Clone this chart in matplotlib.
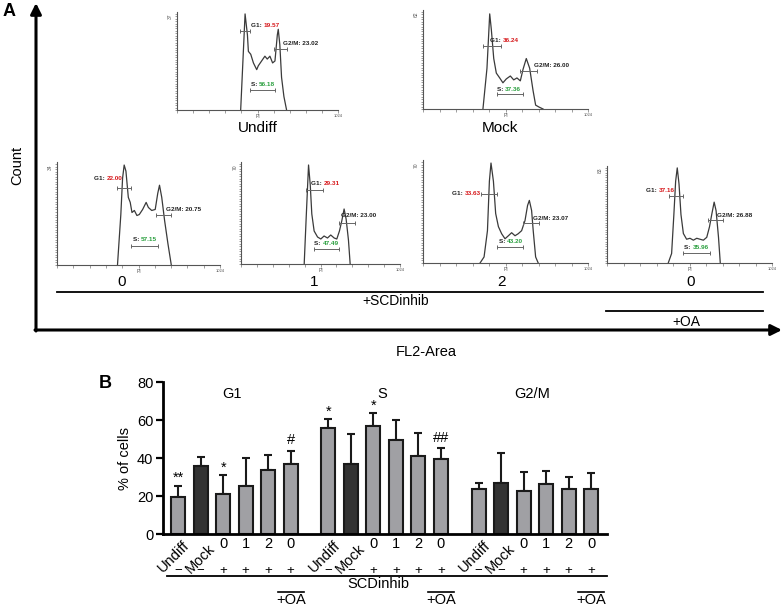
import matplotlib
matplotlib.use('Agg')
import matplotlib.pyplot as plt

plt.rcParams['font.family'] = ['Liberation Sans', 'DejaVu Sans']

# ---------------- DATA ----------------
# Panel A: flow-cytometry histograms (channel 0-1024, height as fraction of y-max)
hist_names = ['Undiff', 'Mock', '0', '1', '2', '0']
hist_ymax = ['37', '62', '34', '70', '70', '83']

undiff_ch = [405, 433, 448, 454, 469, 486, 507, 517, 538, 559, 574, 591, 608, 623, 638, 644, 654, 665, 680, 697]
undiff_y = [0, 1.0, 0.78, 0.61, 0.58, 0.49, 0.42, 0.46, 0.51, 0.56, 0.53, 0.56, 0.49, 0.51, 0.78, 0.84, 0.68, 0.34, 0.14, 0]
mock_ch = [372, 397, 414, 424, 439, 455, 476, 496, 517, 542, 563, 583, 604, 621, 641, 662, 683, 699, 720, 745]
mock_y = [0, 0.42, 0.98, 0.82, 0.52, 0.37, 0.32, 0.27, 0.31, 0.34, 0.30, 0.32, 0.29, 0.41, 0.52, 0.42, 0.19, 0.04, 0.02, 0]
d0_ch = [380, 401, 412, 422, 433, 448, 460, 471, 486, 502, 517, 538, 560, 574, 595, 617, 633, 644, 658, 676, 697, 718]
d0_y = [0, 0.5, 0.86, 0.99, 0.93, 0.67, 0.62, 0.52, 0.54, 0.49, 0.50, 0.55, 0.62, 0.57, 0.54, 0.55, 0.71, 0.79, 0.67, 0.44, 0.21, 0]
d1_ch = [407, 420, 435, 446, 456, 471, 493, 514, 535, 557, 578, 600, 617, 634, 649, 664, 677, 692, 703]
d1_y = [0, 0.47, 0.99, 0.79, 0.5, 0.33, 0.27, 0.25, 0.28, 0.26, 0.29, 0.26, 0.25, 0.33, 0.43, 0.55, 0.45, 0.24, 0]
d2_ch = [354, 379, 400, 412, 422, 437, 451, 468, 488, 509, 530, 550, 571, 591, 612, 633, 649, 660, 674, 684, 699, 715]
d2_y = [0, 0.06, 0.32, 0.81, 0.99, 0.81, 0.49, 0.36, 0.29, 0.24, 0.27, 0.30, 0.27, 0.29, 0.32, 0.42, 0.57, 0.62, 0.52, 0.32, 0.06, 0]
oa_ch = [380, 401, 415, 426, 436, 447, 459, 474, 494, 515, 536, 557, 577, 598, 619, 636, 650, 665, 677, 692, 703]
oa_y = [0, 0.1, 0.51, 0.86, 1.0, 0.83, 0.51, 0.31, 0.25, 0.26, 0.24, 0.26, 0.25, 0.24, 0.27, 0.38, 0.51, 0.64, 0.55, 0.27, 0]

hist_ch = [undiff_ch, mock_ch, d0_ch, d1_ch, d2_ch, oa_ch]
hist_y = [undiff_y, mock_y, d0_y, d1_y, d2_y, oa_y]

pct_g1 = ['19.57', '36.24', '22.00', '29.31', '33.63', '37.16']
pct_s = ['56.18', '37.36', '57.15', '47.49', '43.20', '35.96']
pct_g2 = ['23.02', '26.00', '20.75', '23.00', '23.07', '26.88']

# gates: (start channel, end channel, height fraction)
gate_g1 = [(401, 465, 0.82), (372, 486, 0.65), (376, 464, 0.76), (420, 527, 0.74), (361, 462, 0.68), (386, 469, 0.70)]
gate_s = [(465, 623, 0.21), (459, 621, 0.15), (464, 633, 0.19), (473, 634, 0.15), (462, 619, 0.16), (473, 637, 0.10)]
gate_g2 = [(619, 701, 0.63), (604, 707, 0.39), (623, 714, 0.50), (628, 735, 0.41), (619, 722, 0.40), (629, 719, 0.45)]

# Panel B: % of cells
b_groups = ['G1', 'S', 'G2/M']
b_labels = ['Undiff', 'Mock', '0', '1', '2', '0']
b_scd = ['\u2212', '\u2212', '+', '+', '+', '+']
g1_mean = [19.3, 35.8, 21.0, 25.1, 33.9, 36.8]
g1_err = [6.0, 4.9, 10.0, 14.9, 7.8, 7.1]
s_mean = [55.8, 37.0, 56.8, 49.5, 41.0, 39.3]
s_err = [4.5, 15.4, 6.7, 10.5, 12.0, 6.0]
g2_mean = [23.7, 26.7, 22.8, 26.3, 23.5, 23.5]
g2_err = [3.3, 16.1, 10.0, 7.0, 6.5, 8.8]
b_means = [g1_mean, s_mean, g2_mean]
b_errs = [g1_err, s_err, g2_err]
# significance marks: (group, bar index, text)
sig_marks = [(0, 0, '**'), (0, 2, '*'), (0, 5, '#'), (1, 0, '*'), (1, 2, '*'), (1, 5, '##')]

# ---------------- LAYOUT ----------------
W, H = 783, 606
fig = plt.figure(figsize=(W / 100, H / 100), dpi=100)


def rect(x0, y0, x1, y1):
    return [x0 / W, 1 - y1 / H, (x1 - x0) / W, (y1 - y0) / H]


ov = fig.add_axes([0, 0, 1, 1])
ov.set_xlim(0, W)
ov.set_ylim(H, 0)
ov.axis('off')

# Panel A frame arrows
ov.annotate('', xy=(36, 3), xytext=(36, 331),
            arrowprops=dict(arrowstyle='-|>', lw=2.2, color='black', mutation_scale=16, shrinkA=0, shrinkB=0))
ov.annotate('', xy=(782, 330), xytext=(35, 330),
            arrowprops=dict(arrowstyle='-|>', lw=2.2, color='black', mutation_scale=16, shrinkA=0, shrinkB=0))
ov.text(9, 11, 'A', fontsize=13, fontweight='bold', ha='center', va='center')
ov.text(17, 165, 'Count', fontsize=10.5, rotation=90, ha='center', va='center')
ov.text(426, 352, 'FL2-Area', fontsize=10.5, ha='center', va='center')

# under-histogram labels and treatment lines
label_pos = [(258, 128), (500, 128), (122, 282), (314, 282), (501, 282), (691, 282)]
for name, (x, y) in zip(hist_names, label_pos):
    ov.text(x, y, name, fontsize=11, ha='center', va='center')
ov.plot([57, 763], [292, 292], color='black', lw=1.3)
ov.text(396, 301, '+SCDinhib', fontsize=10, ha='center', va='center')
ov.plot([606, 763], [311, 311], color='black', lw=1.3)
ov.text(686, 322, '+OA', fontsize=10, ha='center', va='center')

hist_rects = [(177, 12, 338, 110), (423, 10, 588, 109), (57, 162, 220, 265),
              (241, 162, 400, 264), (423, 160, 588, 263), (607, 166, 772, 263)]
g1_text = [(469, 0.88, 'left'), (418, 0.71, 'left'), (412, 0.86, 'right'),
           (450, 0.80, 'left'), (358, 0.69, 'right'), (421, 0.76, 'right')]
g2_text = [(676, 0.69), (687, 0.45), (686, 0.55), (643, 0.48), (680, 0.44), (681, 0.50)]
s_text = [(469, 0.27), (459, 0.20), (475, 0.25), (473, 0.20), (470, 0.21), (480, 0.16)]

RED = '#d7191c'
GREEN = '#2ca040'
tfs = 4.6
for k in range(6):
    ax = fig.add_axes(rect(*hist_rects[k]))
    ax.set_facecolor('none')
    ax.set_xlim(0, 1024)
    ax.set_ylim(0, 1.02)
    for sp in ['top', 'right']:
        ax.spines[sp].set_visible(False)
    for sp in ['left', 'bottom']:
        ax.spines[sp].set_color('#555555')
        ax.spines[sp].set_linewidth(0.8)
    ax.set_xticks([i * 102.4 for i in range(11)])
    ax.set_yticks([i / 40 for i in range(41)])
    ax.tick_params(length=1.8, width=0.5, colors='#777777', labelbottom=False, labelleft=False)
    ax.plot(hist_ch[k], hist_y[k], color='#3a3a3a', lw=0.9)
    ax.text(-40, 1.0, hist_ymax[k], fontsize=3.6, rotation=90, ha='center', va='top', color='#555555')
    ax.text(512, -0.04, 'PI', fontsize=3.6, ha='center', va='top', color='#555555')
    ax.text(1024, -0.04, '1024', fontsize=3.0, ha='center', va='top', color='#555555')
    # gates
    for (a, b, h) in (gate_g1[k], gate_s[k], gate_g2[k]):
        ax.plot([a, b], [h, h], color='#666666', lw=0.7, marker='|', markersize=3, mew=0.7)
    # G1 text
    x, y, ha = g1_text[k]
    if ha == 'left':
        t = ax.text(x, y, 'G1: ', fontsize=tfs, fontweight='bold', ha='left', va='center', color='#222222')
        ax.annotate(pct_g1[k], xy=(1, 0), xycoords=t, ha='left', va='bottom', fontsize=tfs,
                    fontweight='bold', color=RED)
    else:
        t = ax.text(x, y, pct_g1[k], fontsize=tfs, fontweight='bold', ha='right', va='center', color=RED)
        ax.annotate('G1: ', xy=(0, 0), xycoords=t, ha='right', va='bottom', fontsize=tfs,
                    fontweight='bold', color='#222222')
    x, y = s_text[k]
    t = ax.text(x, y, 'S: ', fontsize=tfs, fontweight='bold', ha='left', va='center', color='#222222')
    ax.annotate(pct_s[k], xy=(1, 0), xycoords=t, ha='left', va='bottom', fontsize=tfs,
                fontweight='bold', color=GREEN)
    x, y = g2_text[k]
    ax.text(x, y, 'G2/M: ' + pct_g2[k], fontsize=tfs, fontweight='bold', ha='left', va='center',
            color='#222222')

# ---------------- Panel B ----------------
axB = fig.add_axes(rect(163, 382, 607, 534))
group_step = 6.67
bar_w = 0.62
LIGHT = '#a0a0a4'
DARK = '#333333'
fs = 10.5
axB.set_xlim(-0.67, 2 * group_step + 5 + 0.7)
axB.set_ylim(0, 80)
axB.set_yticks([0, 20, 40, 60, 80])
axB.set_xticks([])
for sp in ['top', 'right']:
    axB.spines[sp].set_visible(False)
for sp in ['left', 'bottom']:
    axB.spines[sp].set_linewidth(2)
axB.tick_params(axis='y', length=5, width=1.6, labelsize=fs, pad=2)
xt = axB.get_xaxis_transform()

for g in range(3):
    xs = [g * group_step + i for i in range(6)]
    cols = [DARK if i == 1 else LIGHT for i in range(6)]
    axB.bar(xs, b_means[g], width=bar_w, color=cols, edgecolor='#1a1a1a', linewidth=1.5, zorder=2)
    axB.errorbar(xs, b_means[g], yerr=[[0] * 6, b_errs[g]], fmt='none', ecolor='#1a1a1a',
                 elinewidth=1.5, capsize=3, capthick=1.5, zorder=1)
    axB.text(g * group_step + 2.4, 0.92, b_groups[g], transform=xt, fontsize=fs, ha='center',
             va='center')
    for i in range(6):
        x = xs[i]
        if i < 2:
            axB.text(x + (0.2 if i == 0 else 0.3), -0.03 if i == 0 else -0.05, b_labels[i],
                     transform=xt, rotation=45, rotation_mode='anchor', ha='right', va='top',
                     fontsize=fs)
        else:
            axB.text(x, -0.066, b_labels[i], transform=xt, fontsize=fs, ha='center', va='center')
        axB.text(x, -0.243, b_scd[i], transform=xt, fontsize=9.5, ha='center', va='center')
    # +OA with overline
    xo = xs[5]
    axB.plot([xo - 0.58, xo + 0.58], [-0.38, -0.38], transform=xt, color='black', lw=1.2,
             clip_on=False)
    axB.text(xo, -0.435, '+OA', transform=xt, fontsize=fs, ha='center', va='center')

axB.plot([-0.5, 2 * group_step + 5 + 0.7], [-0.276, -0.276], transform=xt, color='black', lw=1.3,
         clip_on=False)
axB.text(8.9, -0.33, 'SCDinhib', transform=xt, fontsize=fs, ha='center', va='center')

for g, i, s in sig_marks:
    x = g * group_step + i
    top = b_means[g][i] + b_errs[g][i]
    off = 1.8 if '#' in s else 0.4
    axB.text(x, top + off, s, fontsize=fs, ha='center', va='bottom')

ov.text(105, 383, 'B', fontsize=13, fontweight='bold', ha='center', va='center')
ov.text(125, 458, '% of cells', fontsize=fs, rotation=90, ha='center', va='center')

fig.savefig('out.png', dpi=100)
